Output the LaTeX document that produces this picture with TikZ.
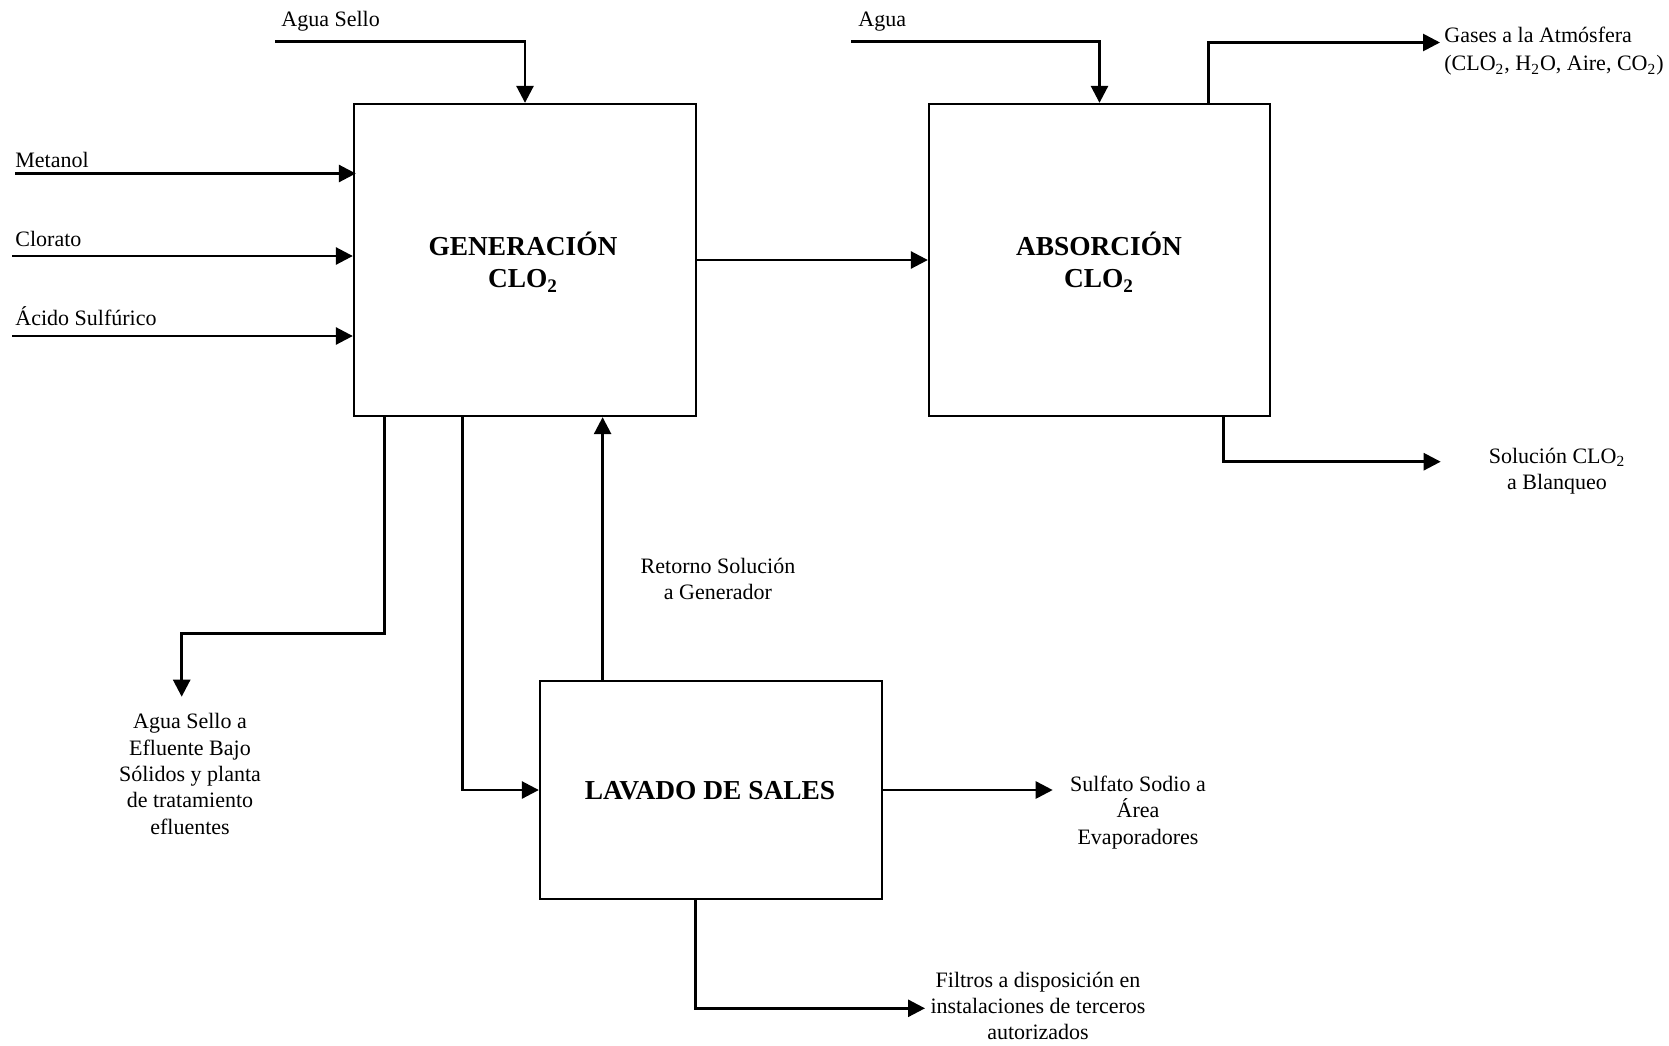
\documentclass[tikz,border=0pt]{standalone}
\usepackage{fontspec}
\setmainfont{Liberation Serif}
\usetikzlibrary{arrows.meta}
\tikzset{
  proc/.style={draw, line width=1.15pt, inner sep=0pt, minimum width=171pt},
  flow/.style={line width=1.35pt, -{Triangle[length=8.5pt,width=8.5pt]}},
  lbl/.style={font=\fontsize{11}{13.2}\selectfont, align=center, inner sep=0pt},
  btxt/.style={font=\fontsize{13.7}{16.3}\selectfont\bfseries, align=center, inner sep=0pt}
}
\begin{document}
\begin{tikzpicture}[x=0.5pt,y=-0.5pt]
\useasboundingbox (0,0) rectangle (1669,1045);
% process boxes
\node[proc, minimum height=156pt] (gen) at (525,260) {};
\node[proc, minimum width=170.5pt, minimum height=156pt] (abs) at (1099.5,260) {};
\node[proc, minimum height=109pt] (lav) at (711,790) {};
\node[btxt] (gent) at (523,262) {GENERACIÓN\\CLO\textsubscript{2}};
\node[btxt] (abst) at (1099,262) {ABSORCIÓN\\CLO\textsubscript{2}};
\node[btxt] (lavt) at (710,791) {LAVADO DE SALES};
% inputs to generation
\coordinate (m0) at (15,173.5);
\coordinate (c0) at (12,256);
\coordinate (a0) at (12,336);
\node[lbl, anchor=base west] (mt) at (15,167) {Metanol};
\node[lbl, anchor=base west] (ct) at (15,246) {Clorato};
\node[lbl, anchor=base west] (at) at (15,325) {Ácido Sulfúrico};
\draw[flow] (m0) -- ([xshift=1.5pt]m0 -| gen.west);
\draw[flow] (c0) -- (c0 -| gen.west);
\draw[flow] (a0) -- (a0 -| gen.west);
\coordinate (as0) at (275,41.7);
\node[lbl, anchor=base west] (ast) at (281,26) {Agua Sello};
\draw[flow] (as0) -| (gen.north);
% generation to absorption
\draw[flow] (gen.east) -- (abs.west);
\coordinate (ag0) at (851,41.7);
\node[lbl, anchor=base west] (agt) at (858,26) {Agua};
\draw[flow] (ag0) -| (abs.north);
% gases
\coordinate (gas) at (1440,42.5);
\draw[flow] ([xshift=54.4pt]abs.north) |- (gas);
\node[lbl, align=left, anchor=west, font=\fontsize{11}{14}\selectfont] (gast) at (1444,51.5) {Gases a la Atmósfera\\(CLO\textsubscript{2}, H\textsubscript{2}O, Aire, CO\textsubscript{2})};
% solution
\coordinate (sol) at (1440.7,461.7);
\draw[flow] ([xshift=61.9pt]abs.south) |- (sol);
\node[lbl] (solt) at (1557,471) {Solución CLO\textsubscript{2}\\a Blanqueo};
% seal water out
\coordinate (ws1) at (181.7,633.3);
\coordinate (ws2) at (181.7,696.7);
\draw[flow] ([xshift=-70.35pt]gen.south) |- (ws1) -- (ws2);
\node[lbl] (wst) at (190,774) {Agua Sello a\\Efluente Bajo\\Sólidos y planta\\de tratamiento\\efluentes};
% generation to salt washing
\draw[flow] ([xshift=-31.35pt]gen.south) |- (lav.west);
% return solution
\draw[flow] ([xshift=-54.2pt]lav.north) -- ([xshift=-54.2pt]lav.north |- gen.south);
\node[lbl] (rett) at (718,579) {Retorno Solución\\a Generador};
% sodium sulfate
\coordinate (sf) at (1052.7,790);
\draw[flow] (lav.east) -- (sf);
\node[lbl] (sft) at (1138,812.5) {Sulfato Sodio a\\Área\\Evaporadores};
% filters
\coordinate (fl) at (925,1008.3);
\draw[flow] ([xshift=-7.65pt]lav.south) |- (fl);
\node[lbl] (flt) at (1038,1006) {Filtros a disposición en\\instalaciones de terceros\\autorizados};
\end{tikzpicture}
\end{document}
